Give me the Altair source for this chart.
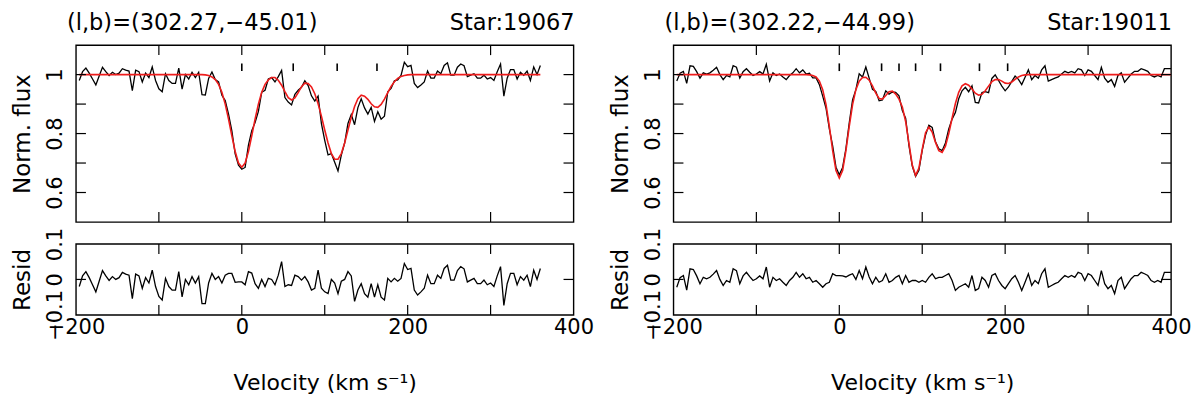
import altair as alt
import pandas as pd

# ---------------- data ----------------
star_ids = ["19067", "19011"]
lb_labels = ["(l,b)=(302.27,\u221245.01)", "(l,b)=(302.22,\u221244.99)"]
y_titles = ["Norm. flux", "Resid"]
x_title = "Velocity (km s\u207b\u00b9)"

vel_19067 = list(range(-196, 361, 4))
model_19067 = [1.0] * 38 + [
    0.999, 0.997, 0.992, 0.983, 0.967, 0.940, 0.900, 0.849, 0.792, 0.739,
    0.700, 0.686, 0.700, 0.739, 0.792, 0.849, 0.900, 0.940, 0.967, 0.982,
    0.990, 0.990, 0.981, 0.964, 0.942, 0.922, 0.914, 0.921, 0.939, 0.959,
    0.971, 0.970, 0.958, 0.935, 0.901, 0.859, 0.812, 0.768, 0.732, 0.713,
    0.713, 0.732, 0.768, 0.812, 0.855, 0.892, 0.918, 0.930, 0.927, 0.916,
    0.901, 0.891, 0.889, 0.899, 0.917, 0.939, 0.960, 0.976, 0.987, 0.994,
    0.997, 0.999] + [1.0] * 40
resid_19067 = [
    -0.020, 0.010, 0.022, 0.005, -0.015, -0.035, -0.005, 0.025, 0.010, -0.003,
    0.008, 0.000, 0.005, 0.020, 0.015, 0.012, -0.054, 0.015, 0.010, -0.025,
    0.005, -0.010, 0.026, -0.020, -0.048, -0.058, 0.003, -0.020, -0.030, -0.030,
    0.022, -0.049, 0.000, -0.015, 0.008, -0.010, 0.008, -0.068, -0.068, -0.010,
    0.017, 0.000, 0.008, -0.010, 0.012, 0.017, 0.017, -0.008, -0.007, -0.007,
    -0.015, 0.022, 0.018, -0.012, -0.025, 0.000, -0.020, 0.003, 0.000, -0.015,
    0.012, 0.050, -0.020, -0.015, -0.017, 0.012, 0.008, -0.002, 0.008, -0.007,
    -0.030, -0.025, 0.026, -0.025, -0.035, -0.040, 0.000, -0.010, -0.040, -0.005,
    0.000, 0.022, 0.010, -0.062, -0.030, -0.012, -0.040, -0.050, -0.012, -0.050,
    -0.015, -0.050, -0.058, 0.003, -0.007, 0.003, -0.005, 0.003, 0.045, 0.028,
    0.031, -0.030, -0.044, -0.035, -0.025, 0.012, -0.012, -0.012, 0.012, 0.003,
    0.031, 0.040, -0.002, -0.002, 0.025, 0.036, 0.030, -0.007, -0.002, 0.003,
    -0.012, -0.012, -0.002, -0.015, -0.010, -0.020, 0.010, 0.036, -0.073, -0.012,
    0.017, 0.017, -0.015, 0.008, -0.002, 0.012, -0.020, 0.026, 0.000, 0.031]
comps_19067 = [0, 62, 115, 163]

vel_19011 = list(range(-196, 401, 4))
model_19011 = [1.0] * 40 + [
    0.999, 0.997, 0.992, 0.978, 0.949, 0.898, 0.824, 0.742, 0.675, 0.649,
    0.675, 0.742, 0.824, 0.898, 0.949, 0.978, 0.990, 0.991, 0.981, 0.962,
    0.937, 0.919, 0.917, 0.929, 0.942, 0.944, 0.934, 0.917, 0.890, 0.841,
    0.767, 0.693, 0.658, 0.683, 0.746, 0.803, 0.822, 0.805, 0.770, 0.742,
    0.736, 0.757, 0.800, 0.852, 0.902, 0.940, 0.962, 0.969, 0.964, 0.951,
    0.937, 0.930, 0.933, 0.945, 0.961, 0.976, 0.983, 0.983, 0.978, 0.971,
    0.970, 0.975, 0.984, 0.992, 0.997, 0.999] + [1.0] * 44
resid_19011 = [
    -0.022, 0.005, 0.011, -0.030, 0.030, 0.028, 0.010, -0.012, 0.006, 0.002,
    0.006, 0.015, 0.025, 0.000, -0.017, -0.003, -0.008, 0.030, 0.025, -0.012,
    0.010, 0.020, 0.008, -0.003, 0.002, 0.010, 0.002, 0.035, -0.022, 0.006,
    -0.003, 0.002, -0.008, -0.017, -0.003, 0.006, 0.020, 0.006, 0.016, 0.002,
    0.006, -0.008, -0.003, -0.012, -0.022, -0.012, -0.008, 0.016, 0.011, 0.011,
    0.010, 0.007, 0.012, 0.016, 0.000, 0.025, 0.002, 0.035, 0.007, -0.012,
    0.006, -0.008, -0.003, 0.016, -0.008, -0.003, 0.006, 0.011, -0.012, 0.011,
    -0.008, -0.003, -0.003, -0.008, -0.003, -0.008, 0.006, 0.016, 0.002, 0.006,
    0.006, 0.011, 0.016, -0.003, -0.031, -0.022, -0.017, -0.012, -0.022, 0.011,
    -0.031, -0.026, 0.006, -0.003, -0.022, 0.011, 0.016, -0.003, -0.017, -0.026,
    -0.012, 0.002, 0.011, -0.008, -0.031, -0.008, 0.016, -0.017, -0.003, -0.012,
    0.016, 0.030, -0.022, -0.017, -0.012, -0.008, 0.002, 0.011, 0.006, 0.011,
    0.006, 0.020, 0.016, -0.003, 0.016, 0.011, -0.003, -0.017, 0.025, -0.012,
    -0.026, -0.017, -0.040, -0.003, 0.006, -0.026, -0.012, 0.002, 0.011, 0.011,
    0.020, 0.016, 0.011, -0.003, -0.008, -0.003, -0.008, 0.020, 0.020, 0.020]
comps_19011 = [0, 51, 72, 92, 122, 169, 203]

x_tick_vals = [-100, 0, 100, 200, 300]
x_label_vals = [-200, 0, 200, 400]
y_tick_vals_main = [0.6, 0.7, 0.8, 0.9, 1.0]
y_label_vals_main = [0.6, 0.8, 1.0]
y_tick_vals_res = [0.0]
y_label_vals_res = [-0.1, 0.0, 0.1]

# ---------------- styling ----------------
FONT = "DejaVu Sans"
FW = "normal"
FS = 21        # tick labels
FS_HEAD = 22.5  # panel headings
FS_YT = 23     # y titles
FS_XT = 22     # x title
W, HM, HR, TK = 498, 177, 71, 10
RED = "#ee1c1c"

XS = alt.Scale(domain=[-200, 400], nice=False, zero=False)
YSM = alt.Scale(domain=[0.5, 1.1], nice=False, zero=False)
YSR = alt.Scale(domain=[-0.1, 0.1], nice=False, zero=False)

HEAD = dict(font=FONT, fontSize=FS_HEAD, fontWeight=FW, color="black")


def yaxis(title, values):
    return alt.Axis(values=values, title=title, format="~g", labelAngle=270,
                    labelAlign="center", labelBaseline="alphabetic",
                    labelPadding=14, ticks=False, domain=False, grid=False,
                    labelFont=FONT, labelFontSize=FS, labelFontWeight=FW,
                    titleFont=FONT, titleFontSize=FS_YT, titleFontWeight=FW,
                    labelColor="black", titleColor="black", titlePadding=10,
                    labelOverlap=False, labelFlush=False)


def tick_layers(yscale, yvals, h):
    tx = pd.DataFrame({"t": x_tick_vals})
    ty = pd.DataFrame({"t": yvals})
    top = alt.Chart(tx).mark_rule(color="black", strokeWidth=1.2).encode(
        x=alt.X("t:Q", scale=XS, axis=None), y=alt.value(0), y2=alt.value(TK))
    bot = alt.Chart(tx).mark_rule(color="black", strokeWidth=1.2).encode(
        x=alt.X("t:Q", scale=XS, axis=None), y=alt.value(h - TK), y2=alt.value(h))
    lef = alt.Chart(ty).mark_rule(color="black", strokeWidth=1.2).encode(
        y=alt.Y("t:Q", scale=yscale, axis=None), x=alt.value(0), x2=alt.value(TK))
    rig = alt.Chart(ty).mark_rule(color="black", strokeWidth=1.2).encode(
        y=alt.Y("t:Q", scale=yscale, axis=None), x=alt.value(W - TK), x2=alt.value(W))
    return [top, bot, lef, rig]


def column(star, lb, vel, model, resid, comps):
    df = pd.DataFrame({"vel": vel, "model": model, "resid": resid})
    df["flux"] = df["model"] + df["resid"]

    flux = alt.Chart(df).mark_line(color="black", strokeWidth=1.3).encode(
        x=alt.X("vel:Q", scale=XS, axis=None),
        y=alt.Y("flux:Q", scale=YSM, axis=yaxis(y_titles[0], y_label_vals_main)))
    fit = alt.Chart(df).mark_line(color=RED, strokeWidth=1.6).encode(
        x=alt.X("vel:Q", scale=XS, axis=None),
        y=alt.Y("model:Q", scale=YSM, axis=None))
    marks = alt.Chart(pd.DataFrame({"c": comps})).mark_rule(
        color="black", strokeWidth=1.6).encode(
        x=alt.X("c:Q", scale=XS, axis=None),
        y=alt.datum(1.012, scale=YSM, axis=None), y2=alt.datum(1.038))
    t_lb = alt.Chart(pd.DataFrame({"s": [lb]})).mark_text(
        align="left", baseline="alphabetic", **HEAD).encode(
        text="s:N", x=alt.value(-9), y=alt.value(-15))
    t_star = alt.Chart(pd.DataFrame({"s": ["Star:" + star]})).mark_text(
        align="right", baseline="alphabetic", **HEAD).encode(
        text="s:N", x=alt.value(W + 1), y=alt.value(-15))

    main = alt.layer(flux, fit, marks, t_lb, t_star,
                     *tick_layers(YSM, y_tick_vals_main, HM)
                     ).resolve_axis(x="independent", y="independent"
                     ).properties(width=W, height=HM)

    res_line = alt.Chart(df).mark_line(color="black", strokeWidth=1.3).encode(
        x=alt.X("vel:Q", scale=XS,
                axis=alt.Axis(values=x_label_vals, format="d", title=x_title,
                              ticks=False, domain=False, grid=False,
                              labelPadding=2, labelFont=FONT, labelFontSize=FS,
                              labelFontWeight=FW, titleFont=FONT,
                              titleFontSize=FS_XT, titleFontWeight=FW,
                              labelColor="black", titleColor="black",
                              titlePadding=35, labelOverlap=False,
                              labelFlush=False)),
        y=alt.Y("resid:Q", scale=YSR, axis=yaxis(y_titles[1], y_label_vals_res)))
    res = alt.layer(res_line, *tick_layers(YSR, y_tick_vals_res, HR)
                    ).resolve_axis(x="independent", y="independent"
                    ).properties(width=W, height=HR)

    return alt.vconcat(main, res, spacing=2)


left = column(star_ids[0], lb_labels[0], vel_19067, model_19067, resid_19067, comps_19067)
right = column(star_ids[1], lb_labels[1], vel_19011, model_19011, resid_19011, comps_19011)

chart = alt.hconcat(left, right, spacing=14).properties(
    padding={"left": 3, "top": 3, "right": 0, "bottom": 0},
    background="white"
).configure_view(stroke="black", strokeWidth=1.4)

chart.save("out.html", embed_options={"renderer": "svg", "actions": False})
